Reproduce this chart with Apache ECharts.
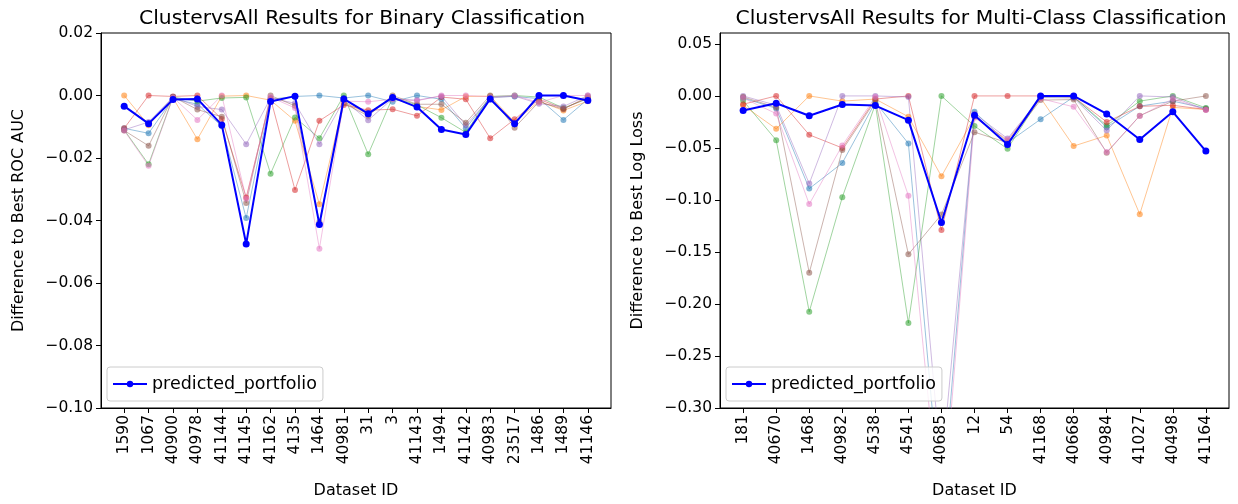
<!DOCTYPE html>
<html>
<head>
<meta charset="utf-8">
<script src="https://cdn.jsdelivr.net/npm/echarts@6/dist/echarts.min.js"></script>
<style>
  html, body { margin: 0; padding: 0; background: #fff; }
  #chart { width: 1238px; height: 504px; }
</style>
</head>
<body>
<div id="chart"></div>
<script>
// binary classification (ROC AUC)
const binIds = ['1590', '1067', '40900', '40978', '41144', '41145', '41162', '4135', '1464', '40981',
  '31', '3', '41143', '1494', '41142', '40983', '23517', '1486', '1489', '41146']
const binPredicted = [-0.0034, -0.009, -0.0013, -0.0011, -0.0094, -0.0475, -0.0019, -0.0002, -0.0413, -0.0011,
  -0.0058, -0.0006, -0.0037, -0.0109, -0.0125, -0.0011, -0.009, 0, 0, -0.0016]
const binBlue   = [-0.0105, -0.0121, -0.001, -0.0028, -0.0098, -0.0392, -0.0012, -0.0003, 0, -0.0008,
  0, -0.002, 0, -0.0012, -0.0105, -0.0005, -0.0003, -0.001, -0.0078, -0.0012]
const binOrange = [0, -0.0095, -0.0008, -0.014, -0.0002, 0, -0.0015, -0.0081, -0.0348, -0.002,
  -0.006, -0.0008, -0.0035, -0.0046, -0.0003, -0.0002, -0.0085, -0.0018, -0.0048, -0.0018]
const binGreen  = [-0.011, -0.022, -0.0005, -0.0018, -0.0008, -0.0006, -0.025, -0.007, -0.0137, 0,
  -0.0188, -0.0006, -0.003, -0.0071, -0.0118, -0.0003, 0, -0.0005, -0.004, -0.001]
const binRed    = [-0.0105, 0, -0.0003, 0, -0.0075, -0.0326, -0.001, -0.0302, -0.0081, -0.003,
  -0.0047, -0.0044, -0.0065, -0.0005, -0.0012, -0.0137, -0.0076, -0.0012, -0.0042, -0.0008]
const binPurple = [-0.011, -0.0085, -0.0005, -0.0035, -0.0045, -0.0156, -0.0008, -0.0025, -0.0156, -0.0015,
  -0.0079, -0.001, -0.0015, -0.0002, -0.0095, -0.0008, -0.0002, -0.0026, -0.0035, 0]
const binBrown  = [-0.0112, -0.0161, -0.0004, -0.0045, -0.0068, -0.0344, 0, -0.0033, -0.0405, -0.0025,
  -0.0065, 0, -0.0028, -0.0028, -0.0087, 0, -0.0103, -0.002, -0.0044, -0.0003]
const binPink   = [-0.0112, -0.0225, -0.0006, -0.0078, 0, -0.033, -0.0005, -0.004, -0.049, -0.0018,
  -0.002, -0.0012, -0.0017, 0, 0, -0.0004, 0, -0.0022, 0, 0]

// multi-class classification (log loss)
const mcIds = ['181', '40670', '1468', '40982', '4538', '4541', '40685', '12', '54', '41168',
  '40668', '40984', '41027', '40498', '41164']
const mcPredicted = [-0.014, -0.007, -0.019, -0.0083, -0.0093, -0.0233, -0.1217, -0.0185, -0.0466, 0,
  0, -0.0173, -0.0419, -0.0153, -0.053]
const mcBlue   = [-0.002, -0.012, -0.0891, -0.0645, -0.006, -0.0457, -0.40, -0.0153, -0.045, -0.0224,
  -0.001, -0.03, -0.0098, -0.005, -0.012]
const mcOrange = [-0.009, -0.0316, 0, -0.005, -0.003, -0.02, -0.0773, -0.02, -0.043, -0.002,
  -0.0482, -0.038, -0.1137, -0.011, -0.013]
const mcGreen  = [-0.0045, -0.0425, -0.2075, -0.0974, -0.008, -0.2184, 0, -0.029, -0.0508, -0.001,
  -0.001, -0.0285, -0.005, 0, -0.0115]
const mcRed    = [-0.008, 0, -0.0374, -0.05, -0.003, 0, -0.129, 0, 0, 0,
  -0.001, -0.025, -0.01, -0.009, -0.013]
const mcPurple = [0, -0.009, -0.0843, 0, 0, -0.001, -0.36, -0.017, -0.041, -0.0015,
  -0.002, -0.0332, 0, -0.001, -0.0134]
const mcBrown  = [-0.001, -0.011, -0.17, -0.052, -0.0045, -0.1523, -0.114, -0.0348, -0.045, -0.004,
  -0.0035, -0.0546, -0.019, -0.005, 0]
const mcPink   = [-0.002, -0.017, -0.104, -0.0476, -0.001, -0.096, -0.42, -0.021, -0.042, -0.0025,
  -0.0105, -0.054, -0.0192, -0.003, -0.0135]

const binTicks = [-0.10, -0.08, -0.06, -0.04, -0.02, 0.00, 0.02]
const mcTicks = [-0.30, -0.25, -0.20, -0.15, -0.10, -0.05, 0.00, 0.05]

const tab = ['#1f77b4', '#ff7f0e', '#2ca02c', '#d62728', '#9467bd', '#8c564b', '#e377c2']
const binBg = [binBlue, binOrange, binGreen, binRed, binPurple, binBrown, binPink]
const mcBg = [mcBlue, mcOrange, mcGreen, mcRed, mcPurple, mcBrown, mcPink]

const font = 'DejaVu Sans'
const fmt = v => {
  const s = (Math.abs(v) < 1e-9 ? 0 : v).toFixed(2)
  return s.replace('-', '\u2212')
}
const pairs = arr => arr.map((v, i) => [i, v])

function xAxis(gridIndex, ids) {
  const idx = ids.map((_, i) => i)
  const m = (ids.length - 1) * 0.05
  return {
    type: 'value', gridIndex, min: -m, max: ids.length - 1 + m,
    name: 'Dataset ID', nameLocation: 'middle', nameGap: 75,
    nameTextStyle: { fontFamily: font, fontSize: 16, color: '#000' },
    axisLine: { show: true, onZero: false, lineStyle: { color: '#000', width: 1 } },
    axisTick: { show: true, customValues: idx, length: 5, lineStyle: { color: '#000' } },
    axisLabel: {
      customValues: idx, rotate: 90, margin: 7,
      fontFamily: font, fontSize: 15.5, color: '#000',
      formatter: v => ids[Math.round(v)]
    },
    splitLine: { show: false }
  }
}

function yAxis(gridIndex, name, min, max, ticks) {
  return {
    type: 'value', gridIndex, min, max,
    name, nameLocation: 'middle', nameGap: 74,
    nameTextStyle: { fontFamily: font, fontSize: 16, color: '#000' },
    axisLine: { show: true, onZero: false, lineStyle: { color: '#000', width: 1 } },
    axisTick: { show: true, customValues: ticks, length: 5, lineStyle: { color: '#000' } },
    axisLabel: { customValues: ticks, margin: 8, fontFamily: font, fontSize: 15.5, color: '#000', formatter: fmt },
    splitLine: { show: false }
  }
}

const series = []
function addSeries(idx, bg, predicted, tag) {
  bg.forEach((arr, k) => {
    series.push({
      name: tag + '_' + k, type: 'line', xAxisIndex: idx, yAxisIndex: idx,
      data: pairs(arr), symbol: 'circle', symbolSize: 6, z: 2,
      lineStyle: { color: tab[k], width: 1, opacity: 0.45 },
      itemStyle: { color: tab[k], opacity: 0.55 },
      emphasis: { disabled: true }
    })
  })
  series.push({
    name: 'predicted_portfolio', type: 'line', xAxisIndex: idx, yAxisIndex: idx,
    data: pairs(predicted), symbol: 'circle', symbolSize: 7, z: 5,
    lineStyle: { color: '#0000ff', width: 2 },
    itemStyle: { color: '#0000ff' },
    emphasis: { disabled: true }
  })
}
addSeries(0, binBg, binPredicted, 'bin')
addSeries(1, mcBg, mcPredicted, 'mc')

const legendStyle = {
  data: ['predicted_portfolio'], orient: 'vertical',
  itemWidth: 34, itemHeight: 8, itemGap: 0,
  padding: [8, 6, 8, 5],
  backgroundColor: 'rgba(255,255,255,0.8)', borderColor: '#cccccc', borderWidth: 1, borderRadius: 3,
  textStyle: { fontFamily: font, fontSize: 17.5, color: '#000' }
}

const option = {
  animation: false,
  backgroundColor: '#fff',
  title: [
    { text: 'ClustervsAll Results for Binary Classification', left: 357, top: 4, textAlign: 'center',
      textStyle: { fontFamily: font, fontSize: 20.3, fontWeight: 'normal', color: '#000' } },
    { text: 'ClustervsAll Results for Multi-Class Classification', left: 976, top: 4, textAlign: 'center',
      textStyle: { fontFamily: font, fontSize: 20.3, fontWeight: 'normal', color: '#000' } }
  ],
  legend: [
    Object.assign({ left: 107, top: 367 }, legendStyle),
    Object.assign({ left: 726, top: 367 }, legendStyle)
  ],
  grid: [
    { left: 101, right: 627, top: 33, bottom: 95, show: true, borderColor: '#000', borderWidth: 1, backgroundColor: 'transparent' },
    { left: 720, right: 9, top: 33, bottom: 95, show: true, borderColor: '#000', borderWidth: 1, backgroundColor: 'transparent' }
  ],
  xAxis: [xAxis(0, binIds), xAxis(1, mcIds)],
  yAxis: [
    yAxis(0, 'Difference to Best ROC AUC', -0.10, 0.02, binTicks),
    yAxis(1, 'Difference to Best Log Loss', -0.30, 0.0605, mcTicks)
  ],
  series
}

const chart = echarts.init(document.getElementById('chart'), null, { renderer: 'canvas' })
chart.setOption(option)
</script>
</body>
</html>
